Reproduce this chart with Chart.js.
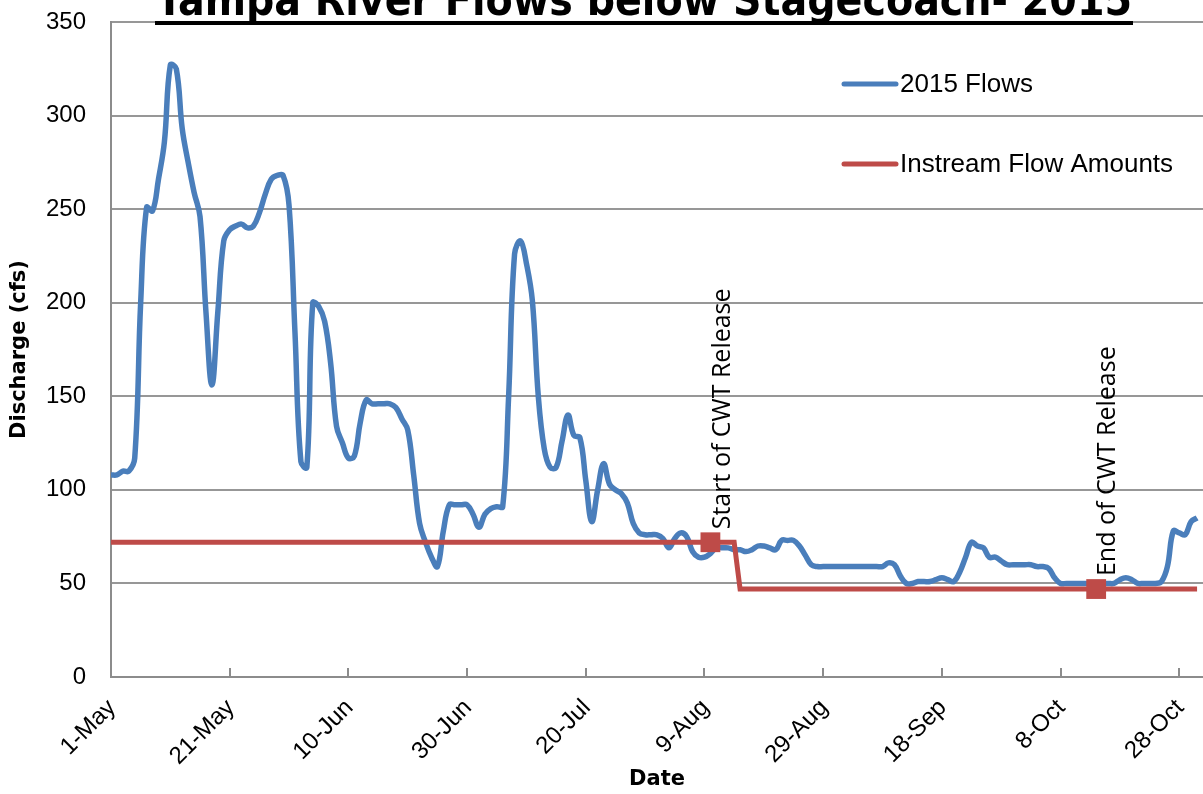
<!DOCTYPE html>
<html>
<head>
<meta charset="utf-8">
<script src="https://cdn.jsdelivr.net/npm/chart.js@4.4.0/dist/chart.umd.min.js"></script>
<style>
  html, body { margin: 0; padding: 0; background: #fff; }
  canvas { display: block; }
</style>
</head>
<body>
<canvas id="flowChart" width="1203" height="794"></canvas>
<script>
// x values are days counted from 1-May
const tickDays = [0, 20, 40, 60, 80, 100, 120, 140, 160, 180];
const tickLabels = ['1-May', '21-May', '10-Jun', '30-Jun', '20-Jul', '9-Aug', '29-Aug', '18-Sep', '8-Oct', '28-Oct'];
const yTicks = [0, 50, 100, 150, 200, 250, 300, 350];

// daily 2015 flows, 1-May .. 31-Oct
const flowValues = [
  108, 108, 110, 110, 117, 200, 251, 249, 266, 286,
  327, 325, 293, 275, 259, 246, 195, 156, 195, 233,
  239, 241, 242, 240, 241, 248, 258, 266, 268, 268,
  252, 184, 115, 112, 200, 198, 190, 168, 134, 125,
  117, 118, 136, 148, 146, 146, 146, 146, 144, 138,
  132, 108, 82, 72, 64, 59, 78, 92, 92, 92,
  92, 87, 80, 87, 90, 91, 91, 150, 226, 233,
  221, 201, 150, 122, 112, 112, 126, 140, 129, 128,
  105, 83, 100, 114, 103, 100, 98, 93, 82, 77,
  76, 76, 76, 74, 69, 74, 77, 75, 67, 64,
  64, 66, 69, 69, 69, 68, 68, 67, 68, 70,
  70, 69, 68, 73, 73, 73, 70, 65, 60, 59,
  59, 59, 59, 59, 59, 59, 59, 59, 59, 59,
  59, 61, 60, 54, 50, 50, 51, 51, 51, 52,
  53, 52, 51, 56, 64, 72, 70, 69, 64, 64,
  62, 60, 60, 60, 60, 60, 59, 59, 58, 53,
  50, 50, 50, 50, 50, 50, 50, 50, 50, 50,
  52, 53, 52, 50, 50, 50, 50, 51, 59, 78,
  77, 76, 83, 85
];

const instreamDays = [0, 105, 106, 183];
const instreamValues = [72, 72, 47, 47];

const markerDays = [101, 166];
const markerValues = [72, 47];
const markerLabels = ['Start of CWT Release', 'End of CWT Release'];

const seriesNames = ['2015 Flows', 'Instream Flow Amounts'];
const chartTitle = 'Tampa River Flows below Stagecoach- 2015';
const yTitle = 'Discharge (cfs)';
const xTitle = 'Date';

const blue = '#4a7ebb';
const red = '#be4b48';
const gridGray = '#979797';
const axisGray = '#8c8c8c';
const textFont = '"Liberation Sans", Arial, sans-serif';

// title, axis text, legend, inside tick marks and release labels
const overlayPlugin = {
  id: 'overlay',
  afterDraw(chart) {
    const ctx = chart.ctx;
    const xs = chart.scales.x;
    const ys = chart.scales.y;
    const area = chart.chartArea;
    ctx.save();

    // tick marks pointing into the plot
    ctx.strokeStyle = axisGray;
    ctx.lineWidth = 2;
    tickDays.forEach(function (d) {
      const px = Math.round(xs.getPixelForValue(d));
      ctx.beginPath();
      ctx.moveTo(px, area.bottom);
      ctx.lineTo(px, area.bottom - 9);
      ctx.stroke();
    });

    // y tick labels
    ctx.fillStyle = '#000';
    ctx.font = '24px ' + textFont;
    ctx.textAlign = 'right';
    ctx.textBaseline = 'middle';
    yTicks.forEach(function (v) {
      ctx.fillText(String(v), 86, ys.getPixelForValue(v));
    });

    // x tick labels, rotated 45 degrees
    tickDays.forEach(function (d, i) {
      ctx.save();
      ctx.translate(xs.getPixelForValue(d) + 1, area.bottom + 27);
      ctx.rotate(-Math.PI / 4);
      ctx.fillText(tickLabels[i], 0, 0);
      ctx.restore();
    });

    // axis titles
    ctx.font = 'bold 21px "DejaVu Sans"';
    ctx.textAlign = 'center';
    ctx.fillText(xTitle, (area.left + area.right) / 2, 780);
    ctx.save();
    ctx.translate(20, (area.top + area.bottom) / 2);
    ctx.rotate(-Math.PI / 2);
    ctx.fillText(yTitle, 0, 0);
    ctx.restore();

    // title (cut off at the top like the original)
    ctx.font = 'bold 44px "DejaVu Sans"';
    ctx.textAlign = 'left';
    ctx.textBaseline = 'alphabetic';
    const tw = ctx.measureText(chartTitle).width;
    ctx.save();
    ctx.translate(156, 15);
    ctx.scale(976 / tw, 1);
    ctx.fillText(chartTitle, 0, 0);
    ctx.restore();
    ctx.fillRect(155, 21, 978, 4);

    // legend
    const legendY = [84, 164];
    const legendColors = [blue, red];
    ctx.font = '26px ' + textFont;
    ctx.textBaseline = 'middle';
    ctx.lineCap = 'round';
    for (let i = 0; i < seriesNames.length; i++) {
      ctx.strokeStyle = legendColors[i];
      ctx.lineWidth = 5;
      ctx.beginPath();
      ctx.moveTo(844, legendY[i]);
      ctx.lineTo(896, legendY[i]);
      ctx.stroke();
      ctx.fillStyle = '#000';
      ctx.fillText(seriesNames[i], 900, legendY[i] + 1);
    }

    // release labels, rotated, sitting above each marker
    ctx.font = '25px "Open Sans"';
    ctx.textAlign = 'left';
    ctx.textBaseline = 'middle';
    for (let i = 0; i < markerDays.length; i++) {
      const px = xs.getPixelForValue(markerDays[i]) + 12;
      const py = ys.getPixelForValue(markerValues[i]) - 13;
      ctx.save();
      ctx.translate(px, py);
      ctx.rotate(-Math.PI / 2);
      ctx.fillText(markerLabels[i], 0, 0);
      ctx.restore();
    }
    ctx.restore();
  }
};

const ctx = document.getElementById('flowChart').getContext('2d');
window.flowChart = new Chart(ctx, {
  type: 'line',
  data: {
    datasets: [{
      label: 'CWT Release',
      data: markerDays.map((d, i) => ({ x: d, y: markerValues[i] })),
      showLine: false,
      pointStyle: 'rect',
      pointRadius: 14,
      pointBackgroundColor: red,
      pointBorderWidth: 0,
      order: 0
    }, {
      label: seriesNames[1],
      data: instreamDays.map((d, i) => ({ x: d, y: instreamValues[i] })),
      borderColor: red,
      borderWidth: 5,
      tension: 0,
      pointRadius: 0,
      order: 1
    }, {
      label: seriesNames[0],
      data: flowValues.map((v, i) => ({ x: i, y: v })),
      borderColor: blue,
      borderWidth: 5.5,
      tension: 0.4,
      pointRadius: 0,
      order: 2
    }]
  },
  options: {
    responsive: false,
    animation: false,
    layout: { autoPadding: false, padding: { top: 22, right: 0, left: 0, bottom: 0 } },
    plugins: {
      legend: { display: false },
      title: { display: false },
      tooltip: { enabled: false }
    },
    scales: {
      x: {
        type: 'linear',
        min: 0,
        max: 184,
        afterBuildTicks: function (scale) {
          scale.ticks = tickDays.map(d => ({ value: d }));
        },
        afterFit: function (scale) {
          scale.height = 117;
        },
        ticks: { display: false },
        grid: { display: true, drawOnChartArea: false, drawTicks: false },
        border: { display: true, color: axisGray, width: 2 }
      },
      y: {
        min: 0,
        max: 350,
        ticks: { display: false, stepSize: 50 },
        afterFit: function (scale) {
          scale.width = 111;
        },
        grid: { color: gridGray, lineWidth: 2, drawTicks: false },
        border: { display: true, color: axisGray, width: 2 }
      }
    }
  },
  plugins: [overlayPlugin]
});
</script>
</body>
</html>
